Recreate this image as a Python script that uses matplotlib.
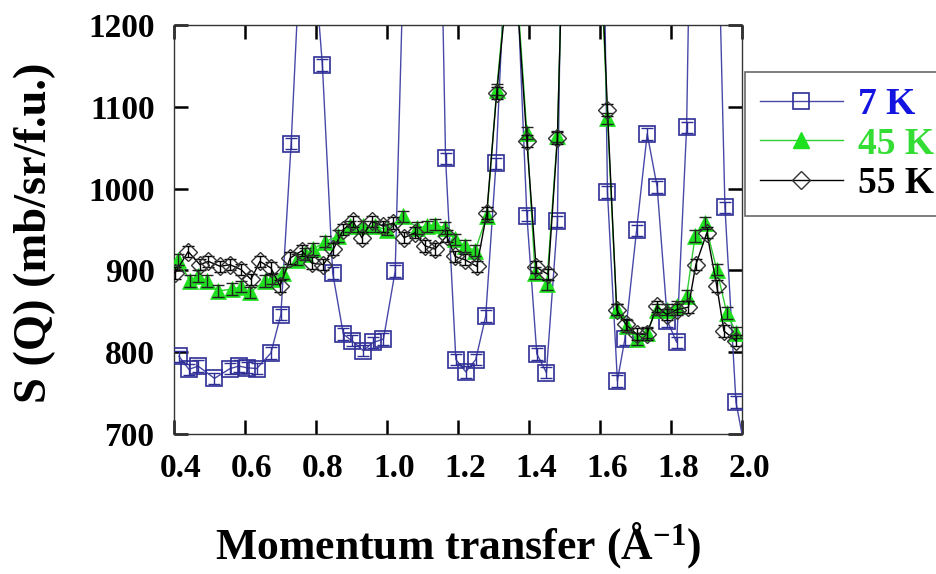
import matplotlib
matplotlib.use("Agg")
import matplotlib.pyplot as plt
from matplotlib.lines import Line2D
from matplotlib.transforms import ScaledTranslation

# ---------------- data ----------------
q_7K = [0.414, 0.442, 0.468, 0.514, 0.558, 0.583, 0.605, 0.633, 0.673, 0.701,
        0.730, 0.770, 0.818, 0.847, 0.877, 0.901, 0.933, 0.961, 0.990, 1.023,
        1.052, 1.080, 1.108, 1.137, 1.165, 1.194, 1.222, 1.250, 1.278, 1.307,
        1.339, 1.367, 1.394, 1.422, 1.449, 1.480, 1.507, 1.549, 1.592, 1.621,
        1.649, 1.670, 1.703, 1.733, 1.761, 1.790, 1.816, 1.844, 1.879, 1.915,
        1.952, 1.983, 2.014]
s_7K = [795, 779, 783, 768, 780, 783, 781, 780, 799, 846,
        1055, 1420, 1151, 897, 822, 814, 802, 812, 816, 899,
        1370, 1900, 2250, 1680, 1037, 791, 776, 791, 844, 1031,
        1340, 1250, 967, 798, 775, 960, 1820, 3100, 1900, 996,
        765, 816, 949, 1067, 1002, 838, 812, 1075, 2000, 1650,
        977, 739, 668]

q_45K = [0.412, 0.445, 0.468, 0.492, 0.525, 0.563, 0.589, 0.614, 0.656, 0.676,
         0.707, 0.746, 0.769, 0.792, 0.825, 0.863, 0.896, 0.933, 0.966, 0.999,
         1.046, 1.084, 1.112, 1.135, 1.163, 1.192, 1.220, 1.248, 1.281, 1.309,
         1.339, 1.367, 1.394, 1.417, 1.450, 1.480, 1.507, 1.549, 1.592, 1.621,
         1.647, 1.675, 1.703, 1.732, 1.760, 1.788, 1.816, 1.844, 1.868, 1.896,
         1.929, 1.957, 1.983]
s_45K = [913, 887, 893, 887, 875, 877, 880, 873, 887, 890,
         897, 913, 920, 926, 935, 942, 954, 954, 954, 950,
         966, 952, 954, 956, 952, 938, 930, 924, 966, 1121,
         1260, 1240, 1068, 897, 883, 1064, 1500, 1950, 1384, 1086,
         852, 832, 816, 824, 852, 852, 856, 869, 942, 958,
         901, 848, 824]

q_55K = [0.403, 0.440, 0.473, 0.497, 0.530, 0.558, 0.589, 0.617, 0.642, 0.673,
         0.699, 0.727, 0.760, 0.788, 0.821, 0.849, 0.877, 0.905, 0.929, 0.957,
         0.990, 1.018, 1.048, 1.079, 1.107, 1.135, 1.168, 1.192, 1.220, 1.253,
         1.281, 1.309, 1.339, 1.367, 1.394, 1.420, 1.454, 1.480, 1.507, 1.549,
         1.592, 1.621, 1.647, 1.673, 1.703, 1.732, 1.760, 1.788, 1.816, 1.849,
         1.870, 1.901, 1.929, 1.949, 1.983]
s_55K = [897, 923, 907, 911, 905, 907, 901, 889, 911, 903,
         881, 915, 924, 909, 907, 926, 950, 960, 940, 960,
         954, 958, 940, 946, 930, 926, 942, 917, 913, 905,
         970, 1117, 1250, 1230, 1058, 904, 895, 1062, 1500, 2000,
         1400, 1096, 852, 834, 822, 822, 856, 846, 852, 855,
         907, 946, 881, 826, 814]

err = 7
labels = ["7 K", "45 K", "55 K"]
x_ticks = [0.4, 0.6, 0.8, 1.0, 1.2, 1.4, 1.6, 1.8, 2.0]
y_ticks = [700, 800, 900, 1000, 1100, 1200]

# ---------------- style ----------------
plt.rcParams['font.family'] = ['Liberation Serif', 'DejaVu Serif']
plt.rcParams['font.weight'] = 'bold'
plt.rcParams['mathtext.fontset'] = 'custom'
plt.rcParams['mathtext.rm'] = 'Liberation Serif:bold'
plt.rcParams['mathtext.bf'] = 'Liberation Serif:bold'
plt.rcParams['mathtext.default'] = 'rm'

blue_line = '#4848a8'
blue_mark = '#2e2e96'
green = '#1fe01f'
green_line = '#33cc33'

fig = plt.figure(figsize=(9.36, 5.74), dpi=100)
ax = fig.add_axes([174/936, 1-434/574, (742-174)/936, (434-25)/574])

# 7 K
ax.plot(q_7K, s_7K, '-', color=blue_line, lw=1.0, zorder=2)
ax.errorbar(q_7K, s_7K, yerr=err, fmt='none', ecolor=blue_mark, elinewidth=1,
            capsize=4, capthick=1, zorder=3)
ax.plot(q_7K, s_7K, 's', ms=12, mfc='none', mec=blue_mark, mew=1.2, zorder=3)

# 45 K
ax.plot(q_45K, s_45K, '-', color=green_line, lw=1.0, zorder=4)
ax.plot(q_45K, s_45K, '^', ms=12, mfc=green, mec=green, mew=0.5, zorder=4)

# 55 K
ax.plot(q_55K, s_55K, '-', color='black', lw=1.0, zorder=5)
ax.errorbar(q_45K, s_45K, yerr=err, fmt='none', ecolor='#222222', elinewidth=1,
            capsize=4, capthick=1, zorder=5)
ax.errorbar(q_55K, s_55K, yerr=err, fmt='none', ecolor='black', elinewidth=1,
            capsize=4, capthick=1, zorder=5)
ax.plot(q_55K, s_55K, 'D', ms=9.5, mfc='none', mec='#333333', mew=1.0, zorder=5)

ax.set_xlim(0.4, 2.0)
ax.set_ylim(700, 1200)
ax.set_xticks(x_ticks)
ax.set_yticks(y_ticks)
ax.set_xticklabels([f"{t:.1f}" for t in x_ticks])
ax.set_yticklabels([str(t) for t in y_ticks])
ax.tick_params(direction='in', length=10, width=1.8, top=True, right=True,
               labelsize=24, pad=14, color='black')
for lab in ax.get_xticklabels():
    lab.set_transform(lab.get_transform() + ScaledTranslation(0.07, 0, fig.dpi_scale_trans))
    lab.set_fontweight('bold')
for lab in ax.get_yticklabels():
    lab.set_fontweight('bold')
for sp in ax.spines.values():
    sp.set_linewidth(1.0)
    sp.set_color('#333333')

ax.set_xlabel("Momentum transfer (Å$^{-1}$)", fontsize=31.5, fontweight='bold')
ax.xaxis.label.set_va('center')
ax.xaxis.set_label_coords(0.5, -(545-434)/409)
ax.set_ylabel("S (Q) (mb/sr/f.u.)", fontsize=33.5, fontweight='bold')
ax.yaxis.label.set_va('center')
ax.yaxis.set_label_coords((35-174)/568, (434-233)/409)

handles = [
    Line2D([], [], color=blue_line, lw=1.0, marker='s', ms=12, mfc='none', mec=blue_mark, mew=1.2),
    Line2D([], [], color=green_line, lw=1.0, marker='^', ms=12, mfc=green, mec=green),
    Line2D([], [], color='black', lw=1.0, marker='D', ms=9.5, mfc='none', mec='#333333'),
]
leg = fig.legend(handles, labels, loc='upper left',
                 bbox_to_anchor=(745/936, 1-72/574), bbox_transform=fig.transFigure,
                 prop={'family': 'Liberation Serif', 'weight': 'bold', 'size': 27},
                 frameon=True, fancybox=False, edgecolor='#444444',
                 handlelength=2.2, handletextpad=0.4, labelspacing=0.12,
                 borderpad=0.4, borderaxespad=0, numpoints=1)
leg.get_frame().set_linewidth(1.2)
for txt, c in zip(leg.get_texts(), ['#1414e0', '#33dd33', 'black']):
    txt.set_color(c)

fig.savefig("out.png", dpi=100)
